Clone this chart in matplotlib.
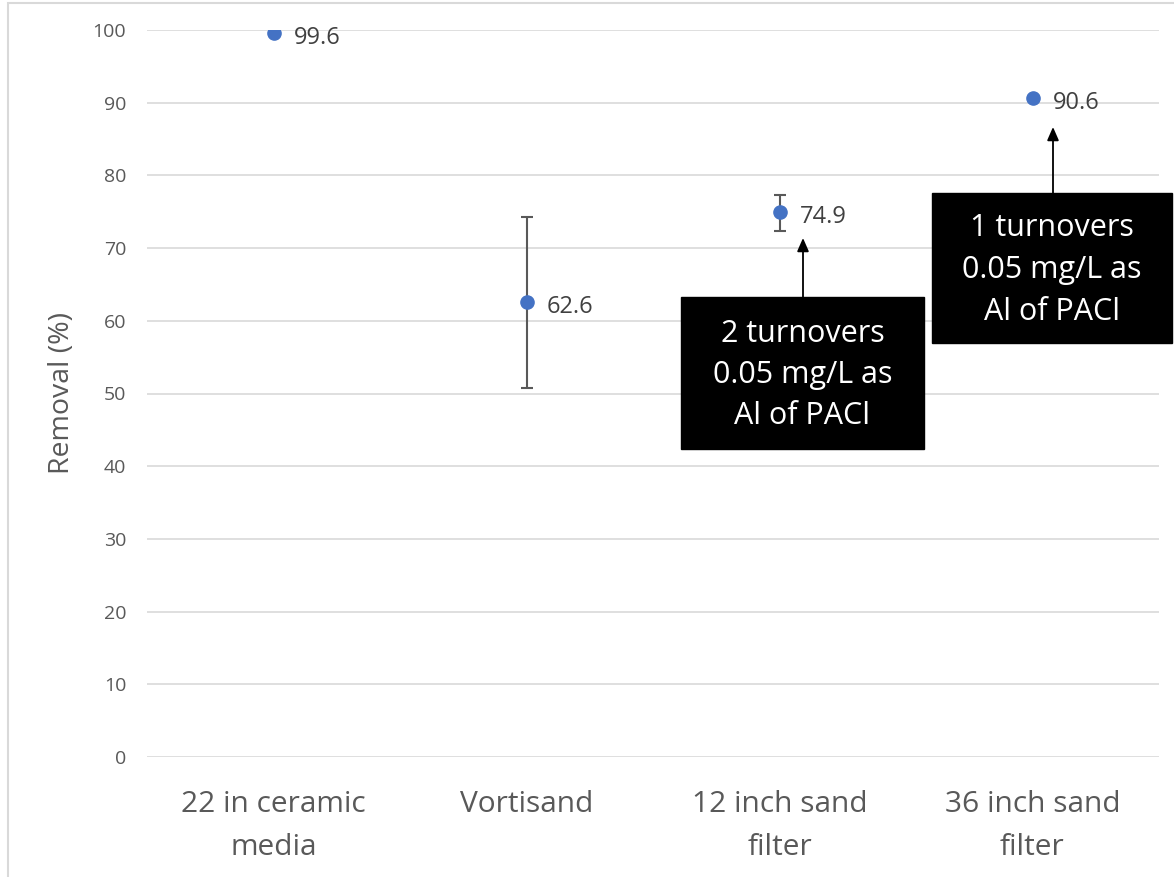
import matplotlib
matplotlib.use("Agg")
import matplotlib.pyplot as plt
from matplotlib.patches import Rectangle

categories = ["22 in ceramic\nmedia", "Vortisand", "12 inch sand\nfilter", "36 inch sand\nfilter"]
removal = [99.6, 62.6, 74.9, 90.6]
err_upper = [0.0, 11.7, 2.4, 0.0]
err_lower = [0.0, 11.8, 2.5, 0.0]
yticks = [0, 10, 20, 30, 40, 50, 60, 70, 80, 90, 100]
notes = ["2 turnovers\n0.05 mg/L as\nAl of PACl", "1 turnovers\n0.05 mg/L as\nAl of PACl"]

plt.rcParams['font.family'] = ['Open Sans', 'DejaVu Sans']

W, H = 1174, 877
fig = plt.figure(figsize=(W/100, H/100), dpi=100)
ax = fig.add_axes([147/W, 1 - 757/H, (1159-147)/W, (757-30)/H])

x = list(range(len(categories)))
ax.errorbar(x, removal, yerr=[err_lower, err_upper], fmt='none', ecolor='#595959',
            elinewidth=1.5, capsize=4.5, capthick=1.5, zorder=2)
ax.plot(x, removal, 'o', color='#4472C4', markersize=9.5, zorder=3)
for xi, v in zip(x, removal):
    ax.annotate(f"{v}", (xi, v), xytext=(14.4, -3.5), textcoords='offset points',
                ha='left', va='center', fontsize=17, color='#404040')

ax.set_xlim(-0.5, len(categories) - 0.5)
ax.set_ylim(0, 100)
ax.set_yticks(yticks)
ax.set_xticks(x)
ax.set_xticklabels(categories, fontsize=21.5, color='#595959', linespacing=1.6)
ax.tick_params(axis='y', labelsize=14, labelcolor='#595959', length=0, pad=15)
ax.tick_params(axis='x', length=0, pad=24)
ax.yaxis.grid(True, color='#D9D9D9', linewidth=1.2)
ax.set_axisbelow(True)
for s in ax.spines.values():
    s.set_visible(False)
ax.set_ylabel("Removal (%)", fontsize=20.5, color='#595959', labelpad=12)

# annotation callouts (pixel layout)
boxes = [(681, 297, 924, 449), (932, 193, 1172, 343)]
tips = [(803, 238), (1053, 127)]
for n, (x0, y0, x1, y1), (tx, ty) in zip(notes, boxes, tips):
    fig.patches.append(Rectangle((x0/W, 1 - y1/H), (x1-x0)/W, (y1-y0)/H,
                                 transform=fig.transFigure, fc='black', ec='black', zorder=5))
    fig.text((x0+x1)/2/W, 1 - ((y0+y1)/2 + 2)/H, n, ha='center', va='center', fontsize=22,
             color='white', linespacing=1.5, zorder=6)
    ax.annotate("", xy=(tx/W, 1 - ty/H), xycoords='figure fraction',
                xytext=(tx/W, 1 - y0/H), textcoords='figure fraction',
                arrowprops=dict(arrowstyle='-|>,head_length=0.8,head_width=0.35',
                                color='black', lw=1.3, shrinkA=0, shrinkB=0))

fig.patches.append(Rectangle((8/W, -0.01), 1.2, 1 - 3/H + 0.01, transform=fig.transFigure,
                             fill=False, ec='#D9D9D9', lw=1.5))

fig.savefig("out.png", dpi=100)
